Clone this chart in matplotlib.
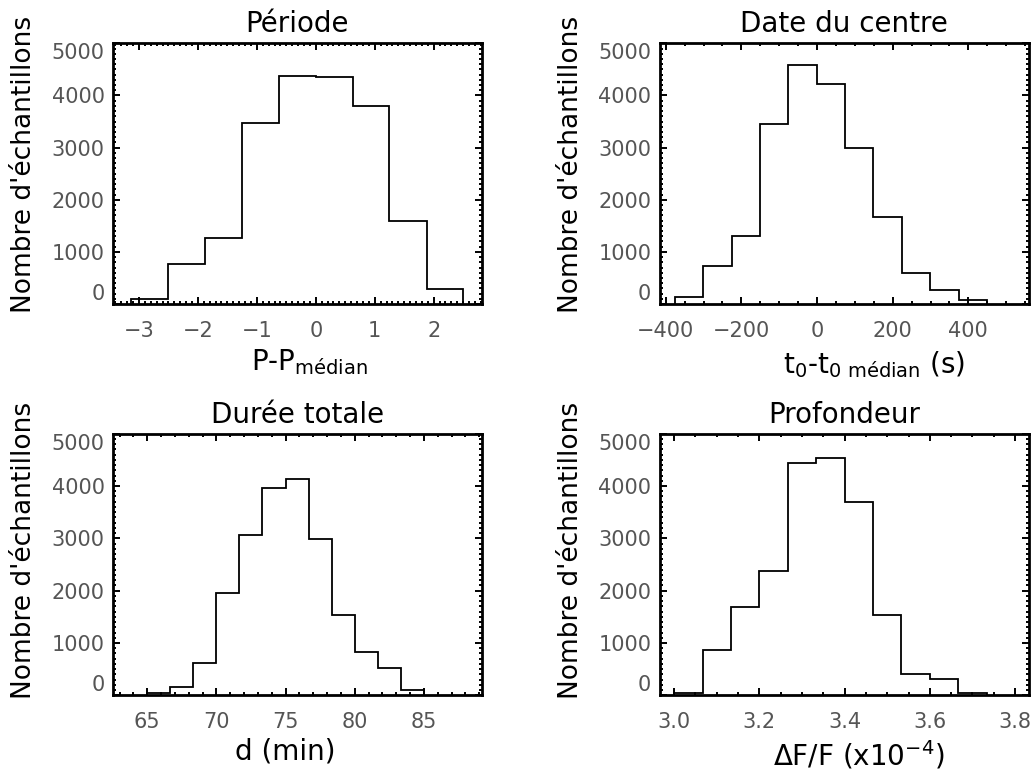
import matplotlib
matplotlib.use('Agg')
import matplotlib.pyplot as plt
from matplotlib.ticker import MultipleLocator

plt.rcParams['font.family'] = ['DejaVu Sans']
plt.rcParams['mathtext.default'] = 'regular'

# ---------------- data ----------------
titles = ["Période", "Date du centre", "Durée totale", "Profondeur"]
xlabels = [r"P-P$_{médian}$",
           r"t$_0$-t$_{0\ médian}$ (s)",
           "d (min)",
           r"ΔF/F (x10$^{-4}$)"]
ylabel = "Nombre d'échantillons"

periode_edges = [-3.13, -2.50, -1.88, -1.25, -0.63, 0.0, 0.63, 1.25, 1.88, 2.50]
periode_counts = [100, 760, 1270, 3480, 4380, 4360, 3790, 1590, 280]

date_edges = [-376, -301, -226, -151, -76, -1, 74, 149, 224, 299, 374, 449]
date_counts = [130, 720, 1300, 3450, 4590, 4210, 3000, 1660, 600, 260, 85]

duree_edges = [65.0, 66.67, 68.33, 70.0, 71.67, 73.33, 75.0, 76.67, 78.33,
               80.0, 81.67, 83.33, 85.0]
duree_counts = [40, 160, 610, 1950, 3070, 3970, 4130, 2980, 1540, 820, 530, 110]

prof_edges = [3.0, 3.067, 3.133, 3.2, 3.267, 3.333, 3.4, 3.467, 3.533,
              3.6, 3.667, 3.733]
prof_counts = [40, 870, 1690, 2380, 4440, 4540, 3700, 1540, 410, 310, 40]

xticks_list = [[-3, -2, -1, 0, 1, 2],
               [-400, -200, 0, 200, 400],
               [65, 70, 75, 80, 85],
               [3.0, 3.2, 3.4, 3.6, 3.8]]
xticklabels_list = [None, None, None, ["3.0", "3.2", "3.4", "3.6", "3.8"]]
yticks = [0, 1000, 2000, 3000, 4000, 5000]

# ---------------- layout ----------------
W, H = 1036, 774
fig = plt.figure(figsize=(W / 100, H / 100), dpi=100)

boxes = [(113, 43.3, 482, 304), (659.7, 43.3, 1028.7, 304),
         (113, 433.7, 482, 695.3), (659.7, 433.7, 1028.7, 695.3)]
xlims = [(-3.44, 2.82), (-416, 559.6), (62.53, 89.2), (2.966, 3.832)]
xminor = [0.1, 50, 1, 0.05]
xlabel_pos = [(0.532, -0.253), (0.581, -0.265), (0.468, -0.245), (0.54, -0.268)]
ylabel_pos = [0.535, 0.535, 0.552, 0.552]

data = [(periode_edges, periode_counts), (date_edges, date_counts),
        (duree_edges, duree_counts), (prof_edges, prof_counts)]

tick_color = '#555555'

for i, (l, t, r, b) in enumerate(boxes):
    ax = fig.add_axes([l / W, 1 - b / H, (r - l) / W, (b - t) / H])
    edges, counts = data[i]
    ax.stairs(counts, edges, color='black', lw=1.3, baseline=0)
    ax.set_xlim(*xlims[i])
    ax.set_ylim(0, 5000)
    ax.set_xticks(xticks_list[i])
    if xticklabels_list[i] is not None:
        ax.set_xticklabels(xticklabels_list[i])
    ax.set_yticks(yticks)
    ax.xaxis.set_minor_locator(MultipleLocator(xminor[i]))
    ax.yaxis.set_minor_locator(MultipleLocator(100))
    for s in ax.spines.values():
        s.set_linewidth(2.0)
    ax.tick_params(which='both', direction='in', top=True, right=True,
                   width=1.4, colors='black', labelcolor=tick_color,
                   labelsize=15)
    ax.tick_params(which='major', length=5)
    ax.tick_params(which='minor', length=2.2)
    ax.tick_params(axis='x', which='major', pad=12)
    ax.tick_params(axis='y', which='major', pad=6)
    yt = ax.yaxis.get_major_ticks()
    yt[0].label1.set_va('bottom')
    yt[-1].label1.set_va('top')

    ax.set_title(titles[i], fontsize=20, pad=8)
    ax.set_xlabel(xlabels[i], fontsize=20, va='baseline')
    ax.xaxis.set_label_coords(*xlabel_pos[i])
    ax.set_ylabel(ylabel, fontsize=19, va='center')
    ax.yaxis.set_label_coords(-0.24, ylabel_pos[i])

fig.savefig('out.png', dpi=100)
